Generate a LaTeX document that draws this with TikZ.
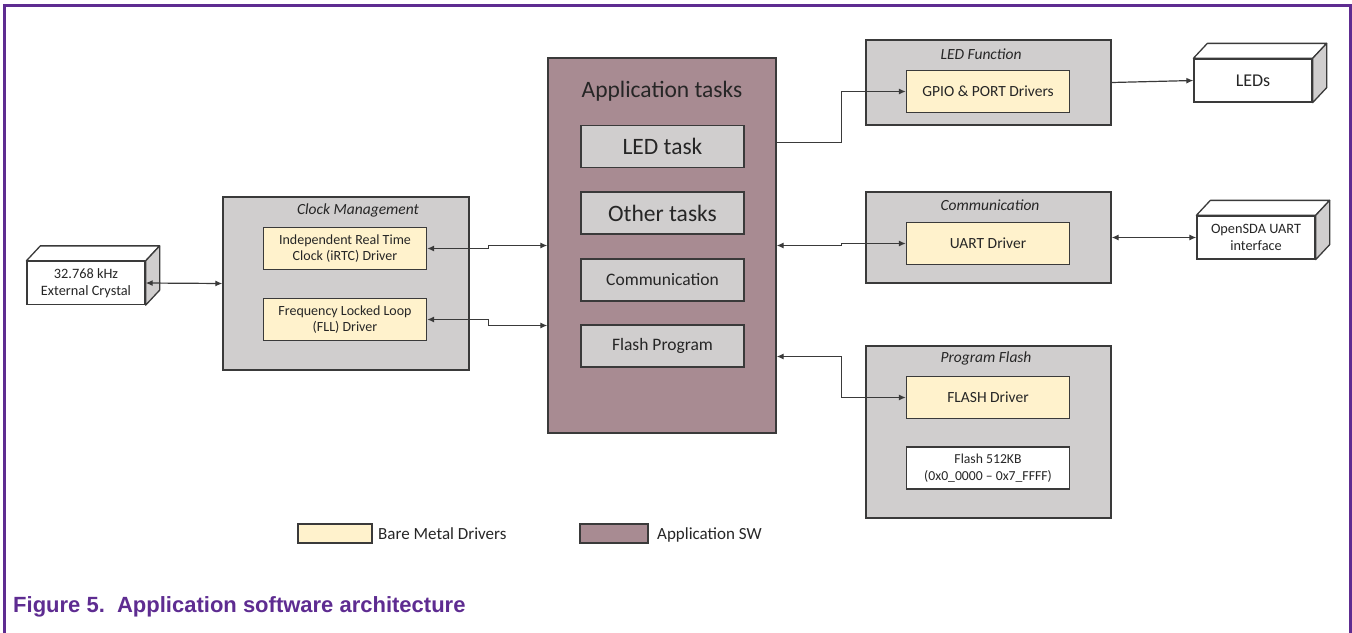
\documentclass[tikz,border=0pt]{standalone}
\usepackage{fontspec}
\setmainfont{Carlito}
\newfontfamily\capfont{Liberation Sans}
\usepackage{tikz}
\usetikzlibrary{arrows.meta,calc,positioning}
\usepackage{xcolor}
\definecolor{nxpurple}{RGB}{94,44,145}
\definecolor{grpgray}{RGB}{208,206,206}
\definecolor{drvyellow}{RGB}{255,242,204}
\definecolor{appmauve}{RGB}{168,139,146}
\definecolor{edgegray}{RGB}{58,58,58}
\definecolor{txtgray}{RGB}{38,38,38}
\tikzstyle{group} = [rectangle, draw=edgegray, fill=grpgray, line width=1.3pt]
\tikzstyle{grplabel} = [font=\fontsize{15.5}{18}\selectfont\itshape, text=txtgray]
\tikzstyle{driver} = [rectangle, draw=edgegray, fill=drvyellow, line width=1.3pt, minimum width=163pt, minimum height=42pt, align=center, text=txtgray, font=\fontsize{15.5}{17}\selectfont]
\tikzstyle{task} = [rectangle, draw=edgegray, fill=grpgray, line width=1.3pt, minimum width=163pt, minimum height=42pt, text=txtgray]
\tikzstyle{device} = [rectangle, draw=edgegray, fill=white, line width=1.3pt, minimum width=118pt, minimum height=43pt, align=center, text=txtgray, font=\fontsize{14.3}{17}\selectfont]
\tikzstyle{face} = [draw=edgegray, line width=1.3pt, line join=round]
\tikzstyle{link} = [edgegray, line width=1.2pt, -{Latex[length=7pt,width=6pt]}]
\tikzstyle{duplex} = [edgegray, line width=1.2pt, {Latex[length=7pt,width=6pt]}-{Latex[length=7pt,width=6pt]}]
\tikzstyle{swatch} = [rectangle, draw=edgegray, line width=1.3pt, minimum height=19pt]
\tikzstyle{legendtext} = [right, xshift=2pt, yshift=-2pt, text=txtgray, text height=11pt, text depth=3pt, font=\fontsize{17}{19}\selectfont]
% top and side faces of a 3D device box
\newcommand{\devicedepth}[1]{%
  \draw[face, fill=white] (#1.north west) -- ++(14,-15) -- ($(#1.north east)+(14,-15)$) -- (#1.north east) -- cycle;
  \draw[face, fill=grpgray] (#1.north east) -- ++(14,-15) -- ($(#1.south east)+(14,-15)$) -- (#1.south east) -- cycle;}

\begin{document}
\begin{tikzpicture}[x=1pt, y=-1pt]
\useasboundingbox (0,0) rectangle (1352,632);

% Frame
\draw[nxpurple, line width=3pt] (4,640) -- (4,5) -- (1350,5) -- (1350,640);

% External crystal
\node[device] (xtal) at (86,283) {32.768 kHz\\External Crystal};
\devicedepth{xtal}

% Clock Management
\node[group, minimum width=246pt, minimum height=173pt] (clk) at (346,283.5) {};
\node[grplabel] at (358,210) {Clock Management};
\node[driver, font=\fontsize{14}{16.5}\selectfont] (irtc) at (345,248.5) {Independent Real Time\\Clock (iRTC) Driver};
\node[driver, font=\fontsize{14}{16.5}\selectfont] (fll) at (345,319.5) {Frequency Locked Loop\\(FLL) Driver};

% Application tasks
\node[rectangle, draw=edgegray, fill=appmauve, line width=1.3pt, minimum width=228pt, minimum height=375pt] (app) at (662,245.5) {};
\node[text=txtgray, font=\fontsize{23.5}{26}\selectfont] at (662,91) {Application tasks};
\node[task, font=\fontsize{23.5}{26}\selectfont] (ledtask) at (662.5,146.5) {LED task};
\node[task, font=\fontsize{23.5}{26}\selectfont] (othertask) at (662.5,213) {Other tasks};
\node[task, font=\fontsize{17.5}{20}\selectfont] (commtask) at (662.5,280) {Communication};
\node[task, font=\fontsize{17.5}{20}\selectfont] (flashtask) at (662.5,346) {Flash Program};

% LED Function
\node[group, minimum width=245pt, minimum height=85pt] (ledf) at (988.5,82.5) {};
\node[grplabel] at (981,54) {LED Function};
\node[driver] (gpio) at (988,91.5) {GPIO \& PORT Drivers};

% Communication
\node[group, minimum width=245pt, minimum height=91pt] (comm) at (988.5,237.5) {};
\node[grplabel] at (990,205) {Communication};
\node[driver] (uart) at (988,243.5) {UART Driver};

% Program Flash
\node[group, minimum width=245pt, minimum height=172pt] (pflash) at (988.5,432) {};
\node[grplabel] at (986,358) {Program Flash};
\node[driver] (fdrv) at (988,397.5) {FLASH Driver};
\node[driver, fill=white, font=\fontsize{13.7}{16.5}\selectfont] (fmem) at (988,468) {Flash 512KB\\(0x0\_0000 -- 0x7\_FFFF)};

% Devices on the right
\node[device, font=\fontsize{18}{20}\selectfont] (leds) at (1253,80.5) {LEDs};
\devicedepth{leds}
\node[device] (opensda) at (1256,237.5) {OpenSDA UART\\interface};
\devicedepth{opensda}

% Arrows
\draw[duplex] (xtal.east) -- (clk.west);
\draw[duplex] (irtc.east) -- ++(61,0) |- (app.west);
\draw[duplex] (fll.east) -- ++(61,0) |- ($(app.west)+(0,80)$);
\draw[link] (app.east |- 0,142.5) -- ++(65,0) |- (gpio.west);
\draw[duplex] (app.east) -- ++(65,0) |- (uart.west);
\draw[duplex] (app.east |- 0,356.5) -- ++(65,0) |- (fdrv.west);
\draw[link] (ledf.east) -- (leds.west);
\draw[duplex] (comm.east) -- (opensda.west);

% Legend
\node[swatch, fill=drvyellow, minimum width=74pt] (keydrv) at (335,533.5) {};
\node[legendtext] at (keydrv.east) {Bare Metal Drivers};
\node[swatch, fill=appmauve, minimum width=68pt] (keyapp) at (614,533.5) {};
\node[legendtext, xshift=3pt] at (keyapp.east) {Application SW};

% Caption
\node[anchor=base west, inner sep=0pt, text=nxpurple, font=\capfont\bfseries\fontsize{22}{26}\selectfont] (caption) at (13,612) {Figure 5.\ \ Application software architecture};
\end{tikzpicture}
\end{document}
